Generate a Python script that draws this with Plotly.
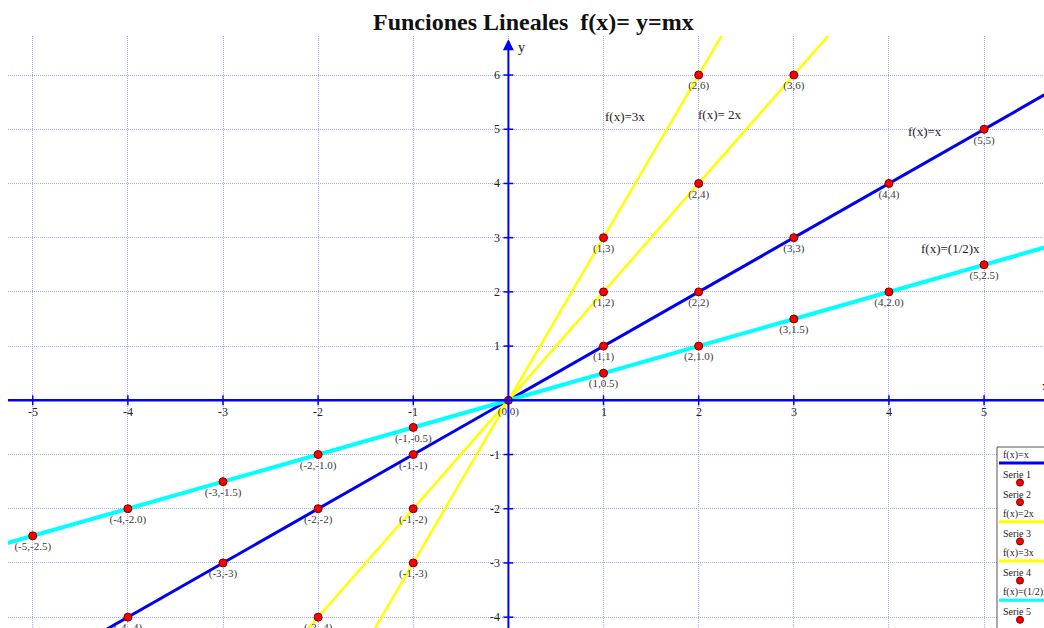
import plotly.graph_objects as go

# --- data -------------------------------------------------------------
x_ticks = [-5, -4, -3, -2, -1, 1, 2, 3, 4, 5]
y_ticks = [-4, -3, -2, -1, 1, 2, 3, 4, 5, 6]

line_names = ["f(x)=x", "f(x)=2x", "f(x)=3x", "f(x)=(1/2)x"]
line_slopes = [1, 2, 3, 0.5]
line_x_ends = [-6, 6]

s1_x = [-4, -3, -2, -1, 1, 2, 3, 4, 5]
s1_y = [-4, -3, -2, -1, 1, 2, 3, 4, 5]
s1_txt = ["(-4,-4)", "(-3,-3)", "(-2,-2)", "(-1,-1)", "(1,1)", "(2,2)", "(3,3)", "(4,4)", "(5,5)"]

s2_x = [-2, -1, 1, 2, 3]
s2_y = [-4, -2, 2, 4, 6]
s2_txt = ["(-2,-4)", "(-1,-2)", "(1,2)", "(2,4)", "(3,6)"]

s3_x = [-1, 1, 2]
s3_y = [-3, 3, 6]
s3_txt = ["(-1,-3)", "(1,3)", "(2,6)"]

s4_x = [0]
s4_y = [0]
s4_txt = ["(0,0)"]

s5_x = [-5, -4, -3, -2, -1, 1, 2, 3, 4, 5]
s5_y = [-2.5, -2.0, -1.5, -1.0, -0.5, 0.5, 1.0, 1.5, 2.0, 2.5]
s5_txt = ["(-5,-2.5)", "(-4,-2.0)", "(-3,-1.5)", "(-2,-1.0)", "(-1,-0.5)",
          "(1,0.5)", "(2,1.0)", "(3,1.5)", "(4,2.0)", "(5,2.5)"]

# --- styles -----------------------------------------------------------
SERIF = "Liberation Serif, Times New Roman, serif"
BLUE = "#0000f0"
YELLOW = "#ffff00"
CYAN = "#00ffff"
line_colors = [BLUE, YELLOW, YELLOW, CYAN]
line_widths = [3, 2.5, 2.5, 4]
AXIS = "#0000ff"
GRID = "#a8a8f8"

X_RANGE = [-5.26, 5.63]
Y_RANGE = [-4.20, 6.72]

fig = go.Figure()

# straight lines y = m x, drawn first so the points sit on top
for name, m, col, w in zip(line_names, line_slopes, line_colors, line_widths):
    fig.add_trace(go.Scatter(
        x=line_x_ends, y=[m * v for v in line_x_ends], mode="lines",
        line=dict(color=col, width=w), name=name, showlegend=False,
        hoverinfo="skip"))

marker = dict(color="#ff0000", size=8, line=dict(color="#700000", width=1))
label_font = dict(family=SERIF, size=11, color="#3a3a3a")
for name, xs, ys, txt in [("Serie 1", s1_x, s1_y, s1_txt),
                          ("Serie 2", s2_x, s2_y, s2_txt),
                          ("Serie 3", s3_x, s3_y, s3_txt),
                          ("Serie 4", s4_x, s4_y, s4_txt),
                          ("Serie 5", s5_x, s5_y, s5_txt)]:
    fig.add_trace(go.Scatter(
        x=xs, y=ys, mode="markers+text", text=txt,
        textposition="bottom center", textfont=label_font,
        marker=marker, name=name, showlegend=False, cliponaxis=False))

shapes = []
annotations = []

# coordinate axes through the origin
shapes.append(dict(type="line", xref="x", yref="y", x0=X_RANGE[0], x1=X_RANGE[1],
                   y0=0, y1=0, line=dict(color=AXIS, width=2.5), layer="above"))
shapes.append(dict(type="line", xref="x", yref="y", x0=0, x1=0,
                   y0=Y_RANGE[0], y1=Y_RANGE[1] - 0.1, line=dict(color=AXIS, width=2), layer="above"))

# tick marks and tick labels along the axes
tick_font = dict(family=SERIF, size=12, color="#222222")
for v in x_ticks:
    shapes.append(dict(type="line", xref="x", yref="y", x0=v, x1=v,
                       ysizemode="pixel", yanchor=0, y0=-5, y1=5,
                       line=dict(color=AXIS, width=1.5), layer="above"))
    annotations.append(dict(x=v, y=0, xref="x", yref="y", text=str(v),
                            showarrow=False, yshift=-12, font=tick_font))
for v in y_ticks:
    shapes.append(dict(type="line", xref="x", yref="y", y0=v, y1=v,
                       xsizemode="pixel", xanchor=0, x0=-5, x1=5,
                       line=dict(color=AXIS, width=1.5), layer="above"))
    annotations.append(dict(x=0, y=v, xref="x", yref="y", text=str(v),
                            showarrow=False, xanchor="right", xshift=-6, font=tick_font))

# arrow on the y axis and axis names
annotations.append(dict(x=0, y=Y_RANGE[1] - 0.06, xref="x", yref="y", ax=0, ay=12,
                        axref="pixel", ayref="pixel", text="", showarrow=True,
                        arrowhead=2, arrowsize=1.1, arrowwidth=2, arrowcolor=AXIS))
annotations.append(dict(x=0, y=6.5, xref="x", yref="y", text="y", showarrow=False,
                        xanchor="left", xshift=8, font=dict(family=SERIF, size=14, color="#111")))
annotations.append(dict(x=1.0, y=0, xref="paper", yref="y", text="x", showarrow=False,
                        xanchor="left", xshift=-4, yshift=14,
                        font=dict(family=SERIF, size=12, color="#111")))

# function names next to the lines
fn_font = dict(family=SERIF, size=13, color="#222222")
for txt, px, py in [("f(x)=3x", 1.23, 5.24), ("f(x)= 2x", 2.22, 5.27),
                    ("f(x)=x", 4.38, 4.96), ("f(x)=(1/2)x", 4.65, 2.8)]:
    annotations.append(dict(x=px, y=py, xref="x", yref="y", text=txt,
                            showarrow=False, font=fn_font))

# title
annotations.append(dict(x=530 / 1044, y=1.0, xref="paper", yref="paper", yanchor="bottom",
                        yshift=-1, text="<b>Funciones Lineales\u00a0\u00a0f(x)= y=mx</b>",
                        showarrow=False, font=dict(family=SERIF, size=24, color="#111111")))

# legend box (text above each sample)
legend_rows = [("f(x)=x", "line", BLUE), ("Serie 1", "dot", None), ("Serie 2", "dot", None),
               ("f(x)=2x", "line", YELLOW), ("Serie 3", "dot", None), ("f(x)=3x", "line", YELLOW),
               ("Serie 4", "dot", None), ("f(x)=(1/2)x", "line", CYAN), ("Serie 5", "dot", None)]
W, H = 1044.0, 628.0
L, T = 8.0, 36.0
pw, ph = W - L, H - T


def px2paper(px, py):
    return (px - L) / pw, (H - py) / ph


bx0, by0 = px2paper(997, 447)
bx1, by1 = px2paper(1050, 640)
shapes.append(dict(type="rect", xref="paper", yref="paper", x0=bx0, x1=bx1, y0=by1, y1=by0,
                   fillcolor="white", line=dict(color="#555555", width=1), layer="above"))
leg_font = dict(family=SERIF, size=10, color="#222222")
for i, (txt, kind, col) in enumerate(legend_rows):
    ty = 455 + i * 19.6
    tx, tyy = px2paper(1001, ty)
    annotations.append(dict(x=tx, y=tyy, xref="paper", yref="paper", text=txt,
                            xanchor="left", yanchor="middle", showarrow=False, font=leg_font))
    if kind == "line":
        lx0, ly = px2paper(999, ty + 8)
        lx1, _ = px2paper(1046, ty + 8)
        shapes.append(dict(type="line", xref="paper", yref="paper", x0=lx0, x1=lx1, y0=ly, y1=ly,
                           line=dict(color=col, width=3), layer="above"))
    else:
        cx, cy = px2paper(1020, ty + 8)
        dx, dy = 3.5 / pw, 3.5 / ph
        shapes.append(dict(type="circle", xref="paper", yref="paper",
                           x0=cx - dx, x1=cx + dx, y0=cy - dy, y1=cy + dy,
                           fillcolor="#ff0000", line=dict(color="#700000", width=1), layer="above"))

grid_axis = dict(showgrid=True, gridcolor=GRID, gridwidth=1, griddash="1px,1px",
                 zeroline=False, showticklabels=False, ticks="", showline=False, dtick=1, tick0=0)
fig.update_layout(
    width=1044, height=628,
    margin=dict(l=8, r=0, t=36, b=0),
    paper_bgcolor="white", plot_bgcolor="white",
    xaxis=dict(range=X_RANGE, **grid_axis),
    yaxis=dict(range=Y_RANGE, **grid_axis),
    shapes=shapes, annotations=annotations, showlegend=False,
)

fig.write_html("out.html")
